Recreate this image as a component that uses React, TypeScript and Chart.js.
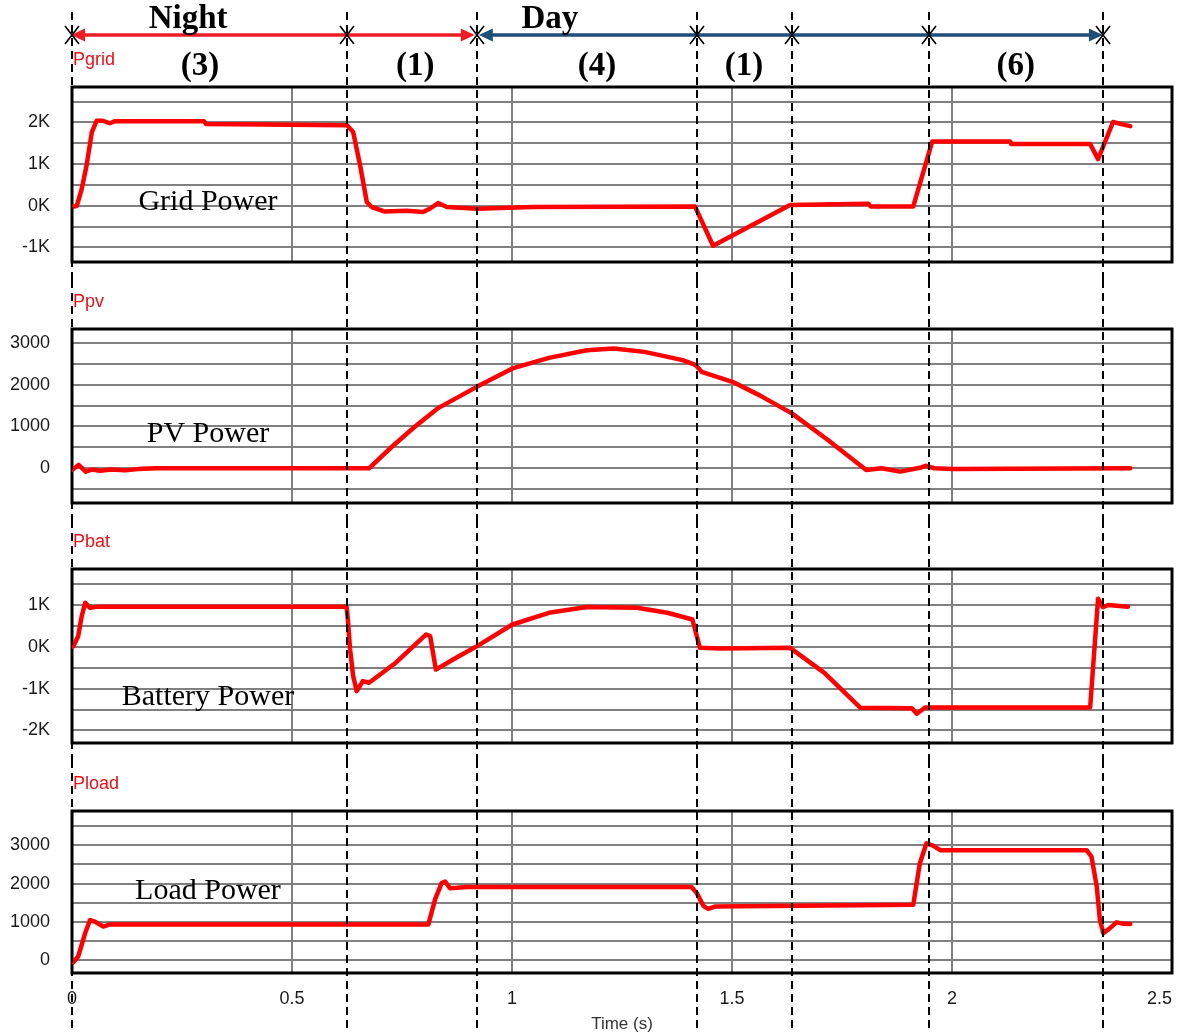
import React, { useEffect, useRef } from 'react';
import { Chart, registerables } from 'chart.js';

Chart.register(...registerables);
Chart.defaults.font.family = '"Liberation Sans", Arial, sans-serif';

// ---------------- data ----------------
const timeTicks = [0, 0.5, 1, 1.5, 2, 2.5];
const timeTickLabels = ['0', '0.5', '1', '1.5', '2', '2.5'];

const eventTimes = [0, 0.625, 0.92, 1.42, 1.636, 1.948, 2.343];
const periodNames = ['Night', 'Day'];
const periodNameTimes = [0.264, 1.086];
const periodStarts = [0, 0.92];
const periodEnds = [0.92, 2.343];
const modeLabels = ['(3)', '(1)', '(4)', '(1)', '(6)'];
const modeLabelTimes = [0.291, 0.78, 1.193, 1.527, 2.145];

const gridTime = [0, 0.005, 0.011, 0.022, 0.033, 0.045, 0.056, 0.07, 0.086, 0.098, 0.3, 0.305, 0.625, 0.639, 0.655, 0.67, 0.681, 0.711, 0.761, 0.798, 0.815, 0.832, 0.852, 0.92, 1.048, 1.416, 1.457, 1.632, 1.81, 1.815, 1.912, 1.955, 2.132, 2.135, 2.314, 2.332, 2.366, 2.385, 2.405];
const gridPower = [-30, -20, 0, 400, 960, 1760, 2040, 2040, 1980, 2030, 2030, 1960, 1930, 1770, 960, 90, -30, -140, -120, -150, -60, 65, -30, -70, -30, -20, -960, 20, 50, -15, -15, 1540, 1540, 1480, 1480, 1120, 2010, 1960, 1910];

const pvTime = [0, 0.015, 0.031, 0.045, 0.064, 0.09, 0.12, 0.15, 0.19, 0.675, 0.727, 0.779, 0.831, 0.92, 1.001, 1.084, 1.17, 1.231, 1.301, 1.388, 1.418, 1.431, 1.501, 1.562, 1.636, 1.718, 1.805, 1.84, 1.882, 1.93, 1.94, 1.96, 2.0, 2.405];
const pvPower = [-40, 80, -80, -30, -60, -30, -50, -20, 0, 0, 515, 993, 1432, 1947, 2387, 2640, 2823, 2864, 2783, 2585, 2465, 2305, 2067, 1749, 1313, 675, -40, 0, -80, 20, 60, 0, -20, 0];

const batTime = [0, 0.003, 0.014, 0.022, 0.03, 0.041, 0.06, 0.624, 0.627, 0.632, 0.639, 0.647, 0.661, 0.675, 0.736, 0.805, 0.814, 0.827, 0.866, 0.918, 1.001, 1.084, 1.17, 1.284, 1.353, 1.41, 1.418, 1.427, 1.475, 1.632, 1.71, 1.792, 1.909, 1.92, 1.939, 2.314, 2.332, 2.343, 2.355, 2.4];
const batPower = [0, 10, 250, 730, 1050, 930, 960, 960, 650, -65, -700, -1060, -820, -860, -380, 295, 255, -545, -305, 0, 533, 813, 950, 935, 813, 653, 335, -25, -40, -25, -623, -1460, -1470, -1600, -1450, -1450, 1150, 950, 1000, 960];

const loadTime = [0, 0.003, 0.014, 0.03, 0.041, 0.052, 0.071, 0.086, 0.81, 0.825, 0.84, 0.848, 0.859, 0.875, 0.897, 1.408, 1.42, 1.435, 1.446, 1.461, 1.912, 1.927, 1.942, 1.958, 1.973, 2.306, 2.317, 2.329, 2.336, 2.344, 2.355, 2.374, 2.39, 2.405];
const loadPower = [-20, -50, 100, 710, 1050, 1010, 880, 935, 935, 1580, 2010, 2050, 1880, 1890, 1910, 1910, 1750, 1420, 1340, 1400, 1450, 2530, 3050, 2980, 2870, 2870, 2700, 1920, 1060, 710, 800, 990, 950, 945];

const gridAxisValues = [-1000, -500, 0, 500, 1000, 1500, 2000, 2500];
const gridAxisLabels = ['-1K', '', '0K', '', '1K', '', '2K', ''];
const pvAxisValues = [-500, 0, 500, 1000, 1500, 2000, 2500, 3000];
const pvAxisLabels = ['', '0', '', '1000', '', '2000', '', '3000'];
const batAxisValues = [-2000, -1500, -1000, -500, 0, 500, 1000, 1500];
const batAxisLabels = ['-2K', '', '-1K', '', '0K', '', '1K', ''];
const loadAxisValues = [0, 500, 1000, 1500, 2000, 2500, 3000, 3500];
const loadAxisLabels = ['0', '', '1000', '', '2000', '', '3000', ''];

// ---------------- panel setup ----------------
const panels = [
  { key: 'grid', signal: 'Pgrid', name: 'Grid Power', time: gridTime, power: gridPower, min: -1350, max: 2850, axisValues: gridAxisValues, axisLabels: gridAxisLabels, nameAt: [0.309, 90], top: 0, height: 280, padTop: 87, padBottom: 18 },
  { key: 'pv', signal: 'Ppv', name: 'PV Power', time: pvTime, power: pvPower, min: -830, max: 3330, axisValues: pvAxisValues, axisLabels: pvAxisLabels, nameAt: [0.309, 820], top: 280, height: 240, padTop: 49, padBottom: 17 },
  { key: 'bat', signal: 'Pbat', name: 'Battery Power', time: batTime, power: batPower, min: -2300, max: 1860, axisValues: batAxisValues, axisLabels: batAxisLabels, nameAt: [0.309, -1213], top: 520, height: 240, padTop: 49, padBottom: 17 },
  { key: 'load', signal: 'Pload', name: 'Load Power', time: loadTime, power: loadPower, min: -330, max: 3890, axisValues: loadAxisValues, axisLabels: loadAxisLabels, nameAt: [0.309, 1810], top: 760, height: 276, padTop: 51, padBottom: 0 },
];

const RED = '#ff0000';
const ARROW_RED = '#ec1c24';
const ARROW_BLUE = '#1f4e79';
const GRID = '#808080';

function Panel({ cfg, index }: { cfg: any; index: number }) {
  const ref = useRef<HTMLCanvasElement>(null);
  useEffect(() => {
    const isFirst = index === 0;
    const isLast = index === panels.length - 1;
    const overlay = {
      id: 'overlay' + index,
      beforeDatasetsDraw(chart: any) {
        const { ctx, chartArea: a, scales } = chart;
        ctx.save();
        ctx.strokeStyle = '#000';
        ctx.lineWidth = 3;
        ctx.strokeRect(a.left, a.top, a.right - a.left, a.bottom - a.top);
        ctx.fillStyle = '#e8101a';
        ctx.font = '18px "Liberation Sans"';
        ctx.textAlign = 'left';
        ctx.textBaseline = 'middle';
        ctx.fillText(cfg.signal, a.left + 1, a.top - 27);
        ctx.fillStyle = '#000';
        ctx.font = '30px "Liberation Serif"';
        ctx.textAlign = 'center';
        ctx.fillText(cfg.name, scales.x.getPixelForValue(cfg.nameAt[0]), scales.y.getPixelForValue(cfg.nameAt[1]));
        if (isLast) {
          ctx.fillStyle = '#1a1a1a';
          ctx.font = '18px "Liberation Sans"';
          ctx.textBaseline = 'middle';
          timeTicks.forEach((t, i) => {
            const px = scales.x.getPixelForValue(t);
            const last = i === timeTicks.length - 1;
            ctx.textAlign = last ? 'right' : 'center';
            ctx.fillText(timeTickLabels[i], px, a.bottom + 26);
          });
        }
        ctx.restore();
      },
      afterDatasetsDraw(chart: any) {
        const { ctx, scales } = chart;
        const xs = scales.x;
        ctx.save();
        ctx.strokeStyle = '#000';
        ctx.lineWidth = 2;
        ctx.setLineDash([8, 5]);
        const y0 = isFirst ? 12 : 0;
        const y1 = isLast ? chart.height - 6 : chart.height;
        eventTimes.forEach((t) => {
          const px = Math.round(xs.getPixelForValue(t));
          ctx.beginPath();
          ctx.moveTo(px, y0);
          ctx.lineTo(px, y1);
          ctx.stroke();
        });
        ctx.setLineDash([]);
        if (isFirst) {
          const ya = 35;
          periodStarts.forEach((t0, k) => {
            const color = k === 0 ? ARROW_RED : ARROW_BLUE;
            const x0 = xs.getPixelForValue(t0) + (k === 0 ? -1 : 2);
            const x1 = xs.getPixelForValue(periodEnds[k]) - (k === 0 ? 2 : 0);
            ctx.strokeStyle = color;
            ctx.fillStyle = color;
            ctx.lineWidth = 3.5;
            ctx.beginPath();
            ctx.moveTo(x0 + 8, ya);
            ctx.lineTo(x1 - 8, ya);
            ctx.stroke();
            ctx.beginPath();
            ctx.moveTo(x0, ya);
            ctx.lineTo(x0 + 14, ya - 6.5);
            ctx.lineTo(x0 + 14, ya + 6.5);
            ctx.closePath();
            ctx.fill();
            ctx.beginPath();
            ctx.moveTo(x1, ya);
            ctx.lineTo(x1 - 14, ya - 6.5);
            ctx.lineTo(x1 - 14, ya + 6.5);
            ctx.closePath();
            ctx.fill();
          });
          ctx.strokeStyle = '#000';
          ctx.lineWidth = 1.6;
          eventTimes.forEach((t) => {
            const px = Math.round(xs.getPixelForValue(t));
            ctx.beginPath();
            ctx.moveTo(px - 7, ya - 9);
            ctx.lineTo(px + 7, ya + 9);
            ctx.moveTo(px + 7, ya - 9);
            ctx.lineTo(px - 7, ya + 9);
            ctx.stroke();
          });
          ctx.fillStyle = '#000';
          ctx.textAlign = 'center';
          ctx.font = 'bold 33px "Liberation Serif"';
          ctx.textBaseline = 'alphabetic';
          periodNames.forEach((n, i) => ctx.fillText(n, xs.getPixelForValue(periodNameTimes[i]), 28));
          ctx.textBaseline = 'middle';
          modeLabels.forEach((n, i) => ctx.fillText(n, xs.getPixelForValue(modeLabelTimes[i]), 66));
        }
        ctx.restore();
      },
    };

    const chart = new Chart(ref.current as HTMLCanvasElement, {
      type: 'line',
      data: {
        datasets: [
          {
            data: cfg.time.map((t: number, i: number) => ({ x: t, y: cfg.power[i] })),
            borderColor: RED,
            borderWidth: 4.5,
            pointRadius: 0,
            tension: 0,
            borderJoinStyle: 'round',
            borderCapStyle: 'round',
            fill: false,
          },
        ],
      },
      options: {
        animation: false,
        responsive: false,
        devicePixelRatio: 1,
        layout: { padding: { top: cfg.padTop, bottom: cfg.padBottom, left: 0, right: 13 } },
        plugins: { legend: { display: false }, tooltip: { enabled: false } },
        scales: {
          x: {
            type: 'linear',
            min: 0,
            max: 2.5,
            afterBuildTicks: (s: any) => {
              s.ticks = timeTicks.map((v) => ({ value: v }));
            },
            grid: { color: GRID, lineWidth: 2, drawTicks: false },
            border: { display: false },
            ticks: { display: false, padding: 0 },
            title: {
              display: isLast,
              text: 'Time (s)',
              color: '#333',
              font: { size: 17 },
              padding: { top: 0, bottom: 1 },
            },
            afterFit: (s: any) => {
              s.height = isLast ? 63 : 0;
            },
          },
          y: {
            type: 'linear',
            min: cfg.min,
            max: cfg.max,
            afterBuildTicks: (s: any) => {
              s.ticks = cfg.axisValues.map((v: number) => ({ value: v }));
            },
            grid: { color: GRID, lineWidth: 2, drawTicks: true, tickLength: 22, tickColor: 'rgba(0,0,0,0)' },
            border: { display: false },
            ticks: {
              padding: 0,
              color: '#1a1a1a',
              font: { size: 18 },
              autoSkip: false,
              callback: (_v: any, i: number) => cfg.axisLabels[i],
            },
            afterFit: (s: any) => {
              s.width = 72;
            },
          },
        },
      } as any,
      plugins: [overlay],
    });
    return () => chart.destroy();
  }, [cfg, index]);

  return (
    <canvas
      ref={ref}
      width={1185}
      height={cfg.height}
      style={{ position: 'absolute', left: 0, top: cfg.top, width: 1185, height: cfg.height, display: 'block' }}
    />
  );
}

export default function App() {
  return (
    <div style={{ position: 'absolute', left: 0, top: 0, width: 1185, height: 1036, background: '#fff', overflow: 'hidden' }}>
      {panels.map((p, i) => (
        <Panel key={p.key} cfg={p} index={i} />
      ))}
    </div>
  );
}
